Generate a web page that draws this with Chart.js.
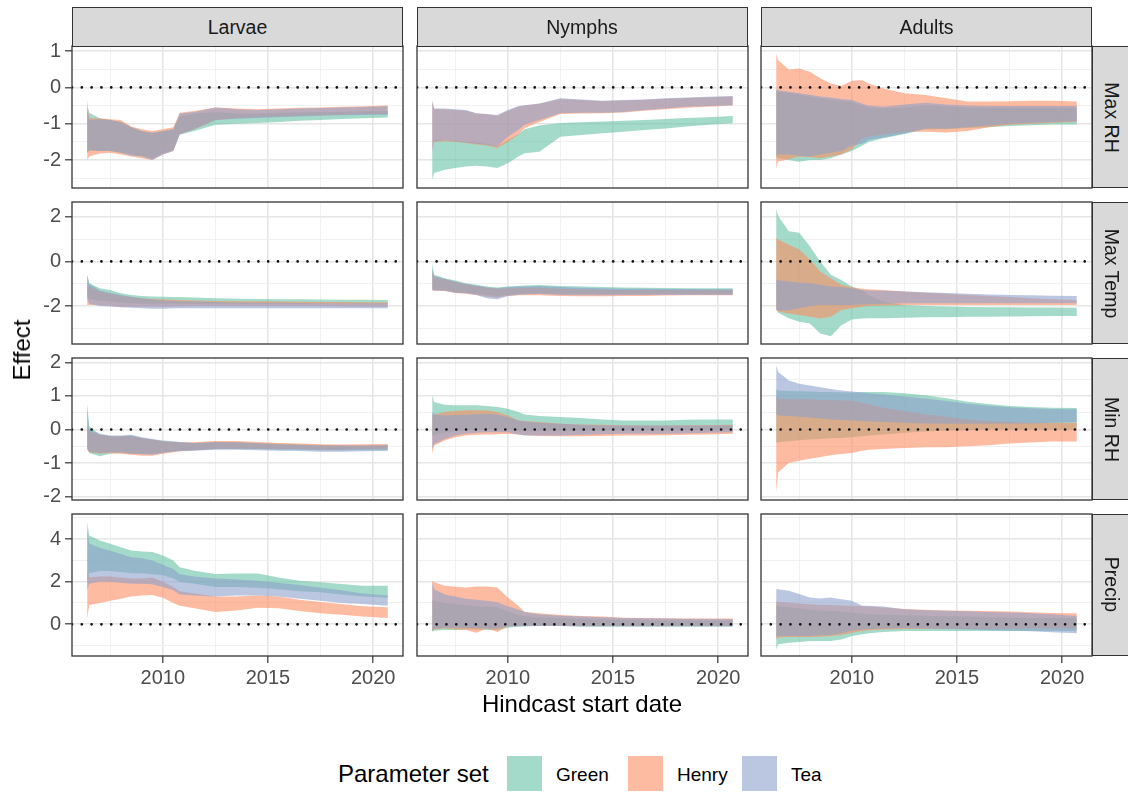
<!DOCTYPE html>
<html><head><meta charset="utf-8">
<script src="https://cdn.jsdelivr.net/npm/chart.js@4.4.1/dist/chart.umd.min.js"></script>
<style>
html,body{margin:0;padding:0;background:#fff;}
#wrap{position:relative;width:1128px;height:792px;overflow:hidden;background:#fff;font-family:"Liberation Sans",Arial,Helvetica,sans-serif;}
canvas{position:absolute;}
.strip{position:absolute;background:#D9D9D9;border:1px solid #333;box-sizing:border-box;display:flex;align-items:center;justify-content:center;color:#1A1A1A;font-size:19.5px;}
.vtext{transform:rotate(90deg);white-space:nowrap;}
.lbl{position:absolute;white-space:nowrap;color:#000;line-height:1;}
.key{position:absolute;width:35px;height:35px;}
</style></head>
<body><div id="wrap"></div>
<script>
// ---------------- DATA ----------------
const dates = [2006.4, 2006.5, 2007, 2007.5, 2008, 2008.5, 2009, 2009.5, 2010, 2010.5, 2010.8, 2011.5, 2012.5, 2013.5, 2014.5, 2015.5, 2016.5, 2017.5, 2018.5, 2019.5, 2020.7];
const stages = ['Larvae', 'Nymphs', 'Adults'];
const variables = ['Max RH', 'Max Temp', 'Min RH', 'Precip'];
const paramSets = ['Green', 'Henry', 'Tea'];
const xMajorTicks = [2010, 2015, 2020];
const xMinorTicks = [2007.5, 2012.5, 2017.5];
const yMajorTicksMaxRH = [-2, -1, 0, 1];
const yMinorTicksMaxRH = [-2.5, -1.5, -0.5, 0.5];
const yMajorTicksMaxTemp = [-2, 0, 2];
const yMinorTicksMaxTemp = [-3, -1, 1];
const yMajorTicksMinRH = [-2, -1, 0, 1, 2];
const yMinorTicksMinRH = [-1.5, -0.5, 0.5, 1.5];
const yMajorTicksPrecip = [0, 2, 4];
const yMinorTicksPrecip = [-1, 1, 3, 5];
const referenceEffect = 0;

// Larvae - Max RH
const larvaeMaxRH_Green_lo = [-1.8, -1.75, -1.75, -1.75, -1.8, -1.85, -1.88, -1.95, -1.8, -1.72, -1.3, -1.2, -1.03, -1.0, -0.98, -0.95, -0.92, -0.9, -0.87, -0.85, -0.83];
const larvaeMaxRH_Green_hi = [-0.5, -0.7, -0.85, -0.9, -0.95, -1.1, -1.2, -1.25, -1.2, -1.15, -0.8, -0.72, -0.68, -0.72, -0.72, -0.7, -0.69, -0.68, -0.67, -0.66, -0.65];
const larvaeMaxRH_Henry_lo = [-2.0, -1.9, -1.82, -1.8, -1.85, -1.9, -1.95, -2.0, -1.85, -1.75, -1.28, -1.15, -0.9, -0.85, -0.82, -0.8, -0.78, -0.77, -0.75, -0.74, -0.73];
const larvaeMaxRH_Henry_hi = [-0.35, -0.85, -0.85, -0.88, -0.9, -1.08, -1.15, -1.2, -1.15, -1.1, -0.7, -0.65, -0.55, -0.58, -0.6, -0.58, -0.56, -0.55, -0.53, -0.52, -0.5];
const larvaeMaxRH_Tea_lo = [-1.8, -1.72, -1.75, -1.75, -1.8, -1.88, -1.9, -2.0, -1.85, -1.75, -1.3, -1.15, -0.9, -0.86, -0.84, -0.82, -0.8, -0.78, -0.77, -0.76, -0.75];
const larvaeMaxRH_Tea_hi = [-0.6, -0.9, -0.88, -0.9, -0.95, -1.1, -1.2, -1.25, -1.2, -1.15, -0.72, -0.68, -0.55, -0.6, -0.62, -0.6, -0.58, -0.57, -0.55, -0.54, -0.52];
// Nymphs - Max RH
const nymphsMaxRH_Green_lo = [-2.55, -2.36, -2.27, -2.22, -2.18, -2.16, -2.18, -2.22, -2.09, -1.9, -1.81, -1.77, -1.36, -1.31, -1.26, -1.22, -1.17, -1.13, -1.08, -1.03, -0.99];
const nymphsMaxRH_Green_hi = [-1.75, -1.45, -1.45, -1.47, -1.5, -1.52, -1.55, -1.62, -1.45, -1.28, -1.15, -1.05, -0.98, -0.96, -0.94, -0.92, -0.9, -0.87, -0.84, -0.82, -0.79];
const nymphsMaxRH_Henry_lo = [-1.7, -1.5, -1.48, -1.5, -1.53, -1.57, -1.6, -1.67, -1.5, -1.3, -1.12, -0.95, -0.73, -0.72, -0.71, -0.69, -0.64, -0.6, -0.56, -0.53, -0.5];
const nymphsMaxRH_Henry_hi = [-0.4, -0.6, -0.6, -0.62, -0.64, -0.72, -0.74, -0.78, -0.64, -0.53, -0.5, -0.45, -0.32, -0.35, -0.38, -0.36, -0.34, -0.31, -0.29, -0.27, -0.25];
const nymphsMaxRH_Tea_lo = [-1.81, -1.49, -1.45, -1.49, -1.52, -1.55, -1.58, -1.63, -1.36, -1.17, -1.03, -0.9, -0.71, -0.7, -0.7, -0.68, -0.62, -0.58, -0.53, -0.51, -0.49];
const nymphsMaxRH_Tea_hi = [-0.35, -0.58, -0.58, -0.6, -0.62, -0.71, -0.73, -0.76, -0.62, -0.51, -0.49, -0.44, -0.3, -0.33, -0.37, -0.35, -0.33, -0.3, -0.28, -0.26, -0.24];
// Adults - Max RH
const adultsMaxRH_Green_lo = [-1.95, -1.95, -2.0, -2.05, -2.0, -2.0, -1.95, -1.85, -1.75, -1.6, -1.5, -1.4, -1.28, -1.15, -1.15, -1.12, -1.1, -1.06, -1.04, -1.02, -1.02];
const adultsMaxRH_Green_hi = [-0.1, -0.12, -0.15, -0.2, -0.25, -0.3, -0.33, -0.37, -0.4, -0.5, -0.55, -0.58, -0.55, -0.5, -0.52, -0.55, -0.56, -0.56, -0.56, -0.56, -0.56];
const adultsMaxRH_Henry_lo = [-2.22, -2.04, -1.98, -1.9, -1.92, -1.95, -1.9, -1.85, -1.7, -1.4, -1.35, -1.3, -1.22, -1.22, -1.24, -1.2, -1.1, -1.03, -1.0, -0.97, -0.95];
const adultsMaxRH_Henry_hi = [0.93, 0.75, 0.49, 0.52, 0.43, 0.25, 0.11, 0.04, 0.18, 0.2, 0.11, -0.03, -0.16, -0.21, -0.3, -0.39, -0.39, -0.38, -0.37, -0.37, -0.39];
const adultsMaxRH_Tea_lo = [-1.9, -1.85, -1.85, -1.88, -1.9, -1.85, -1.8, -1.75, -1.6, -1.55, -1.45, -1.38, -1.27, -1.13, -1.14, -1.1, -1.05, -1.0, -0.97, -0.95, -0.93];
const adultsMaxRH_Tea_hi = [-0.05, -0.08, -0.12, -0.16, -0.2, -0.25, -0.28, -0.32, -0.35, -0.45, -0.5, -0.53, -0.47, -0.42, -0.47, -0.5, -0.51, -0.51, -0.51, -0.51, -0.51];

// Larvae - Max Temp
const larvaeMaxTemp_Green_lo = [-1.6, -1.7, -1.75, -1.8, -1.85, -1.88, -1.9, -1.9, -1.9, -1.9, -1.9, -1.9, -1.9, -1.9, -1.9, -1.9, -1.9, -1.9, -1.9, -1.9, -1.9];
const larvaeMaxTemp_Green_hi = [-0.6, -0.98, -1.2, -1.28, -1.43, -1.5, -1.55, -1.57, -1.58, -1.6, -1.6, -1.62, -1.65, -1.67, -1.68, -1.7, -1.7, -1.71, -1.72, -1.72, -1.73];
const larvaeMaxTemp_Henry_lo = [-1.95, -1.95, -1.95, -2.0, -2.03, -2.03, -2.03, -2.03, -2.03, -2.02, -2.02, -2.0, -2.0, -2.0, -2.0, -2.0, -2.0, -2.0, -2.02, -2.02, -2.03];
const larvaeMaxTemp_Henry_hi = [-1.0, -1.13, -1.35, -1.45, -1.55, -1.6, -1.65, -1.68, -1.7, -1.72, -1.73, -1.75, -1.77, -1.78, -1.79, -1.8, -1.81, -1.82, -1.82, -1.83, -1.83];
const larvaeMaxTemp_Tea_lo = [-1.7, -1.9, -2.0, -2.02, -2.05, -2.08, -2.1, -2.12, -2.12, -2.1, -2.1, -2.1, -2.1, -2.1, -2.1, -2.1, -2.1, -2.1, -2.1, -2.1, -2.1];
const larvaeMaxTemp_Tea_hi = [-0.6, -1.0, -1.3, -1.4, -1.5, -1.58, -1.65, -1.7, -1.75, -1.77, -1.78, -1.8, -1.82, -1.84, -1.85, -1.85, -1.86, -1.87, -1.87, -1.88, -1.88];
// Nymphs - Max Temp
const nymphsMaxTemp_Green_lo = [-1.25, -1.28, -1.3, -1.38, -1.42, -1.45, -1.5, -1.55, -1.5, -1.45, -1.44, -1.43, -1.45, -1.45, -1.46, -1.46, -1.45, -1.45, -1.45, -1.45, -1.45];
const nymphsMaxTemp_Green_hi = [-0.08, -0.6, -0.75, -0.86, -0.98, -1.05, -1.13, -1.17, -1.13, -1.1, -1.08, -1.06, -1.1, -1.13, -1.15, -1.17, -1.18, -1.19, -1.2, -1.2, -1.2];
const nymphsMaxTemp_Henry_lo = [-1.3, -1.32, -1.33, -1.42, -1.45, -1.5, -1.58, -1.62, -1.55, -1.52, -1.52, -1.52, -1.55, -1.56, -1.56, -1.55, -1.55, -1.53, -1.52, -1.52, -1.52];
const nymphsMaxTemp_Henry_hi = [-0.5, -0.7, -0.8, -0.92, -1.02, -1.1, -1.18, -1.22, -1.2, -1.18, -1.18, -1.18, -1.22, -1.25, -1.27, -1.28, -1.28, -1.28, -1.28, -1.28, -1.28];
const nymphsMaxTemp_Tea_lo = [-1.28, -1.3, -1.32, -1.4, -1.43, -1.5, -1.65, -1.7, -1.55, -1.5, -1.48, -1.46, -1.5, -1.52, -1.52, -1.5, -1.5, -1.5, -1.5, -1.5, -1.5];
const nymphsMaxTemp_Tea_hi = [-0.3, -0.65, -0.78, -0.9, -1.0, -1.08, -1.16, -1.2, -1.15, -1.13, -1.12, -1.1, -1.15, -1.18, -1.2, -1.22, -1.23, -1.24, -1.24, -1.25, -1.25];
// Adults - Max Temp
const adultsMaxTemp_Green_lo = [-2.1, -2.3, -2.55, -2.7, -2.78, -3.23, -3.35, -2.86, -2.6, -2.56, -2.55, -2.55, -2.52, -2.5, -2.5, -2.48, -2.48, -2.47, -2.46, -2.45, -2.45];
const adultsMaxTemp_Green_hi = [2.36, 2.03, 1.35, 1.28, 0.68, 0.0, -0.6, -0.83, -1.13, -1.3, -1.5, -1.8, -1.95, -2.0, -2.02, -2.04, -2.05, -2.05, -2.06, -2.06, -2.08];
const adultsMaxTemp_Henry_lo = [-2.18, -2.26, -2.33, -2.4, -2.48, -2.56, -2.48, -2.18, -2.1, -2.03, -2.0, -1.98, -1.95, -1.95, -1.95, -1.95, -1.95, -1.95, -1.95, -1.95, -1.95];
const adultsMaxTemp_Henry_hi = [1.05, 0.98, 0.75, 0.53, 0.08, -0.45, -0.75, -1.05, -1.16, -1.22, -1.25, -1.28, -1.35, -1.4, -1.45, -1.5, -1.55, -1.6, -1.65, -1.7, -1.73];
const adultsMaxTemp_Tea_lo = [-2.2, -2.2, -2.2, -2.1, -2.0, -1.95, -1.95, -1.95, -1.95, -1.93, -1.92, -1.9, -1.88, -1.88, -1.88, -1.88, -1.88, -1.88, -1.88, -1.88, -1.88];
const adultsMaxTemp_Tea_hi = [-0.8, -0.85, -0.9, -0.95, -0.98, -1.05, -1.13, -1.16, -1.2, -1.28, -1.3, -1.32, -1.35, -1.38, -1.42, -1.45, -1.48, -1.5, -1.52, -1.54, -1.55];

// Larvae - Min RH
const larvaeMinRH_Green_lo = [-0.55, -0.7, -0.8, -0.72, -0.7, -0.72, -0.72, -0.72, -0.68, -0.65, -0.63, -0.62, -0.58, -0.58, -0.58, -0.6, -0.6, -0.62, -0.62, -0.62, -0.6];
const larvaeMinRH_Green_hi = [0.77, 0.1, -0.15, -0.2, -0.2, -0.18, -0.25, -0.3, -0.35, -0.37, -0.38, -0.4, -0.38, -0.38, -0.4, -0.42, -0.44, -0.46, -0.48, -0.48, -0.47];
const larvaeMinRH_Henry_lo = [-0.6, -0.68, -0.72, -0.7, -0.72, -0.75, -0.78, -0.78, -0.72, -0.68, -0.65, -0.62, -0.57, -0.57, -0.57, -0.58, -0.58, -0.6, -0.6, -0.58, -0.57];
const larvaeMinRH_Henry_hi = [0.1, -0.05, -0.15, -0.2, -0.2, -0.2, -0.25, -0.3, -0.35, -0.37, -0.38, -0.38, -0.34, -0.34, -0.37, -0.4, -0.42, -0.44, -0.45, -0.44, -0.43];
const larvaeMinRH_Tea_lo = [-0.58, -0.66, -0.7, -0.68, -0.68, -0.72, -0.74, -0.75, -0.7, -0.66, -0.65, -0.63, -0.6, -0.6, -0.62, -0.63, -0.64, -0.66, -0.66, -0.65, -0.64];
const larvaeMinRH_Tea_hi = [0.7, 0.0, -0.13, -0.18, -0.18, -0.16, -0.23, -0.28, -0.33, -0.35, -0.37, -0.4, -0.37, -0.38, -0.41, -0.44, -0.46, -0.48, -0.48, -0.48, -0.47];
// Nymphs - Min RH
const nymphsMinRH_Green_lo = [-0.2, -0.15, -0.1, -0.05, -0.02, 0.0, 0.0, 0.0, 0.0, -0.05, -0.05, -0.05, -0.05, -0.05, -0.03, -0.03, -0.03, -0.02, -0.02, -0.01, 0.0];
const nymphsMinRH_Green_hi = [1.01, 0.82, 0.74, 0.72, 0.72, 0.72, 0.7, 0.67, 0.62, 0.52, 0.45, 0.4, 0.37, 0.34, 0.3, 0.27, 0.27, 0.27, 0.29, 0.3, 0.3];
const nymphsMinRH_Henry_lo = [-0.73, -0.48, -0.33, -0.23, -0.18, -0.16, -0.15, -0.14, -0.13, -0.15, -0.17, -0.19, -0.2, -0.2, -0.19, -0.18, -0.18, -0.17, -0.16, -0.15, -0.13];
const nymphsMinRH_Henry_hi = [0.42, 0.45, 0.52, 0.55, 0.57, 0.57, 0.57, 0.52, 0.42, 0.27, 0.25, 0.22, 0.17, 0.15, 0.14, 0.13, 0.12, 0.12, 0.13, 0.13, 0.14];
const nymphsMinRH_Tea_lo = [-0.58, -0.43, -0.28, -0.18, -0.13, -0.1, -0.08, -0.08, -0.08, -0.15, -0.18, -0.18, -0.18, -0.16, -0.14, -0.13, -0.13, -0.13, -0.12, -0.1, -0.08];
const nymphsMinRH_Tea_hi = [0.52, 0.45, 0.42, 0.43, 0.44, 0.46, 0.47, 0.45, 0.37, 0.27, 0.24, 0.2, 0.17, 0.14, 0.12, 0.12, 0.12, 0.12, 0.12, 0.12, 0.12];
// Adults - Min RH
const adultsMinRH_Green_lo = [-0.4, -0.38, -0.35, -0.32, -0.3, -0.28, -0.26, -0.25, -0.23, -0.2, -0.18, -0.15, -0.1, -0.06, -0.03, -0.02, 0.0, 0.0, 0.0, 0.0, 0.0];
const adultsMinRH_Green_hi = [1.2, 1.16, 1.15, 1.14, 1.13, 1.12, 1.12, 1.11, 1.1, 1.12, 1.12, 1.12, 1.08, 1.02, 0.93, 0.83, 0.76, 0.7, 0.67, 0.65, 0.64];
const adultsMinRH_Henry_lo = [-1.87, -1.27, -1.0, -0.93, -0.87, -0.82, -0.77, -0.73, -0.7, -0.63, -0.6, -0.58, -0.55, -0.53, -0.53, -0.5, -0.47, -0.42, -0.39, -0.36, -0.36];
const adultsMinRH_Henry_hi = [1.0, 0.92, 0.9, 0.9, 0.9, 0.88, 0.87, 0.87, 0.86, 0.8, 0.75, 0.65, 0.55, 0.45, 0.38, 0.3, 0.25, 0.22, 0.2, 0.2, 0.2];
const adultsMinRH_Tea_lo = [0.45, 0.42, 0.4, 0.38, 0.36, 0.33, 0.3, 0.28, 0.27, 0.25, 0.24, 0.22, 0.2, 0.18, 0.17, 0.17, 0.17, 0.18, 0.18, 0.2, 0.22];
const adultsMinRH_Tea_hi = [1.91, 1.71, 1.46, 1.36, 1.31, 1.26, 1.21, 1.16, 1.13, 1.1, 1.08, 1.04, 0.98, 0.92, 0.85, 0.77, 0.71, 0.66, 0.63, 0.61, 0.6];

// Larvae - Precip
const larvaePrecip_Green_lo = [2.0, 2.4, 2.5, 2.5, 2.45, 2.4, 2.4, 2.35, 2.3, 2.15, 2.0, 1.9, 1.75, 1.75, 1.72, 1.65, 1.55, 1.5, 1.4, 1.3, 1.25];
const larvaePrecip_Green_hi = [4.8, 4.17, 3.94, 3.78, 3.62, 3.46, 3.42, 3.39, 3.23, 2.99, 2.68, 2.52, 2.36, 2.38, 2.38, 2.2, 2.05, 1.97, 1.89, 1.81, 1.81];
const larvaePrecip_Henry_lo = [0.25, 0.9, 1.0, 1.1, 1.2, 1.3, 1.35, 1.37, 1.25, 1.0, 0.87, 0.75, 0.58, 0.65, 0.78, 0.75, 0.62, 0.52, 0.45, 0.37, 0.3];
const larvaePrecip_Henry_hi = [2.5, 2.2, 2.25, 2.25, 2.2, 2.15, 2.15, 2.2, 2.0, 1.75, 1.55, 1.45, 1.3, 1.3, 1.35, 1.3, 1.15, 1.05, 0.95, 0.85, 0.8];
const larvaePrecip_Tea_lo = [1.6, 1.9, 2.0, 2.0, 1.95, 1.9, 1.9, 1.88, 1.75, 1.6, 1.4, 1.35, 1.3, 1.35, 1.35, 1.3, 1.2, 1.1, 1.0, 0.95, 0.87];
const larvaePrecip_Tea_hi = [4.5, 3.8, 3.6, 3.45, 3.3, 3.15, 3.1, 3.0, 2.8, 2.6, 2.35, 2.25, 2.15, 2.1, 2.05, 1.95, 1.85, 1.72, 1.6, 1.45, 1.35];
// Nymphs - Precip
const nymphsPrecip_Green_lo = [-0.35, -0.3, -0.27, -0.27, -0.25, -0.26, -0.27, -0.27, -0.16, -0.12, -0.1, -0.08, -0.08, -0.1, -0.11, -0.11, -0.11, -0.11, -0.11, -0.11, -0.11];
const nymphsPrecip_Green_hi = [1.2, 1.1, 1.0, 0.95, 0.9, 0.85, 0.82, 0.8, 0.6, 0.45, 0.38, 0.32, 0.28, 0.25, 0.22, 0.2, 0.19, 0.18, 0.18, 0.17, 0.17];
const nymphsPrecip_Henry_lo = [-0.31, -0.25, -0.2, -0.25, -0.27, -0.4, -0.2, -0.36, -0.11, -0.08, -0.07, -0.07, -0.08, -0.08, -0.08, -0.08, -0.08, -0.08, -0.08, -0.08, -0.08];
const nymphsPrecip_Henry_hi = [2.05, 1.97, 1.81, 1.76, 1.73, 1.78, 1.78, 1.73, 1.26, 0.87, 0.58, 0.52, 0.43, 0.39, 0.36, 0.31, 0.3, 0.28, 0.27, 0.27, 0.27];
const nymphsPrecip_Tea_lo = [-0.31, -0.2, -0.16, -0.16, -0.17, -0.18, -0.2, -0.2, -0.11, -0.09, -0.08, -0.08, -0.08, -0.1, -0.11, -0.11, -0.11, -0.11, -0.11, -0.11, -0.11];
const nymphsPrecip_Tea_hi = [1.97, 1.65, 1.4, 1.3, 1.2, 1.15, 1.1, 1.03, 0.85, 0.7, 0.58, 0.47, 0.4, 0.36, 0.33, 0.3, 0.28, 0.27, 0.26, 0.25, 0.24];
// Adults - Precip
const adultsPrecip_Green_lo = [-1.18, -0.94, -0.87, -0.83, -0.79, -0.79, -0.79, -0.71, -0.55, -0.47, -0.42, -0.36, -0.31, -0.31, -0.31, -0.31, -0.31, -0.31, -0.31, -0.31, -0.31];
const adultsPrecip_Green_hi = [0.9, 0.85, 0.8, 0.75, 0.7, 0.65, 0.62, 0.6, 0.55, 0.5, 0.47, 0.45, 0.42, 0.4, 0.38, 0.36, 0.34, 0.32, 0.3, 0.3, 0.3];
const adultsPrecip_Henry_lo = [-0.7, -0.62, -0.6, -0.6, -0.6, -0.58, -0.55, -0.5, -0.4, -0.32, -0.28, -0.25, -0.22, -0.22, -0.22, -0.22, -0.22, -0.21, -0.2, -0.2, -0.2];
const adultsPrecip_Henry_hi = [1.1, 1.05, 1.02, 0.98, 0.94, 0.92, 0.9, 0.88, 0.87, 0.85, 0.83, 0.79, 0.72, 0.68, 0.65, 0.63, 0.62, 0.6, 0.56, 0.53, 0.52];
const adultsPrecip_Tea_lo = [-0.6, -0.55, -0.55, -0.55, -0.55, -0.52, -0.5, -0.42, -0.3, -0.25, -0.22, -0.2, -0.18, -0.2, -0.22, -0.25, -0.28, -0.3, -0.33, -0.38, -0.42];
const adultsPrecip_Tea_hi = [1.65, 1.65, 1.57, 1.42, 1.26, 1.21, 1.26, 1.18, 1.1, 0.87, 0.87, 0.83, 0.71, 0.66, 0.63, 0.61, 0.58, 0.55, 0.52, 0.47, 0.39];

// ---------------- TABLES BUILT FROM THE DATA ----------------
const ribbons = {
  'Larvae|Max RH':  {Green:[larvaeMaxRH_Green_lo, larvaeMaxRH_Green_hi], Henry:[larvaeMaxRH_Henry_lo, larvaeMaxRH_Henry_hi], Tea:[larvaeMaxRH_Tea_lo, larvaeMaxRH_Tea_hi]},
  'Nymphs|Max RH':  {Green:[nymphsMaxRH_Green_lo, nymphsMaxRH_Green_hi], Henry:[nymphsMaxRH_Henry_lo, nymphsMaxRH_Henry_hi], Tea:[nymphsMaxRH_Tea_lo, nymphsMaxRH_Tea_hi]},
  'Adults|Max RH':  {Green:[adultsMaxRH_Green_lo, adultsMaxRH_Green_hi], Henry:[adultsMaxRH_Henry_lo, adultsMaxRH_Henry_hi], Tea:[adultsMaxRH_Tea_lo, adultsMaxRH_Tea_hi]},
  'Larvae|Max Temp':{Green:[larvaeMaxTemp_Green_lo, larvaeMaxTemp_Green_hi], Henry:[larvaeMaxTemp_Henry_lo, larvaeMaxTemp_Henry_hi], Tea:[larvaeMaxTemp_Tea_lo, larvaeMaxTemp_Tea_hi]},
  'Nymphs|Max Temp':{Green:[nymphsMaxTemp_Green_lo, nymphsMaxTemp_Green_hi], Henry:[nymphsMaxTemp_Henry_lo, nymphsMaxTemp_Henry_hi], Tea:[nymphsMaxTemp_Tea_lo, nymphsMaxTemp_Tea_hi]},
  'Adults|Max Temp':{Green:[adultsMaxTemp_Green_lo, adultsMaxTemp_Green_hi], Henry:[adultsMaxTemp_Henry_lo, adultsMaxTemp_Henry_hi], Tea:[adultsMaxTemp_Tea_lo, adultsMaxTemp_Tea_hi]},
  'Larvae|Min RH':  {Green:[larvaeMinRH_Green_lo, larvaeMinRH_Green_hi], Henry:[larvaeMinRH_Henry_lo, larvaeMinRH_Henry_hi], Tea:[larvaeMinRH_Tea_lo, larvaeMinRH_Tea_hi]},
  'Nymphs|Min RH':  {Green:[nymphsMinRH_Green_lo, nymphsMinRH_Green_hi], Henry:[nymphsMinRH_Henry_lo, nymphsMinRH_Henry_hi], Tea:[nymphsMinRH_Tea_lo, nymphsMinRH_Tea_hi]},
  'Adults|Min RH':  {Green:[adultsMinRH_Green_lo, adultsMinRH_Green_hi], Henry:[adultsMinRH_Henry_lo, adultsMinRH_Henry_hi], Tea:[adultsMinRH_Tea_lo, adultsMinRH_Tea_hi]},
  'Larvae|Precip':  {Green:[larvaePrecip_Green_lo, larvaePrecip_Green_hi], Henry:[larvaePrecip_Henry_lo, larvaePrecip_Henry_hi], Tea:[larvaePrecip_Tea_lo, larvaePrecip_Tea_hi]},
  'Nymphs|Precip':  {Green:[nymphsPrecip_Green_lo, nymphsPrecip_Green_hi], Henry:[nymphsPrecip_Henry_lo, nymphsPrecip_Henry_hi], Tea:[nymphsPrecip_Tea_lo, nymphsPrecip_Tea_hi]},
  'Adults|Precip':  {Green:[adultsPrecip_Green_lo, adultsPrecip_Green_hi], Henry:[adultsPrecip_Henry_lo, adultsPrecip_Henry_hi], Tea:[adultsPrecip_Tea_lo, adultsPrecip_Tea_hi]},
};
const rowTicks = {
  'Max RH':  {major: yMajorTicksMaxRH, minor: yMinorTicksMaxRH},
  'Max Temp':{major: yMajorTicksMaxTemp, minor: yMinorTicksMaxTemp},
  'Min RH':  {major: yMajorTicksMinRH, minor: yMinorTicksMinRH},
  'Precip':  {major: yMajorTicksPrecip, minor: yMinorTicksPrecip},
};

// ---------------- STYLE / LAYOUT ----------------
const FONT = '"Liberation Sans", Arial, Helvetica, sans-serif';
const fillColors = {Green:'rgba(102,194,165,0.6)', Henry:'rgba(252,141,98,0.6)', Tea:'rgba(141,160,203,0.6)'};
const drawOrder = {Green: 3, Henry: 2, Tea: 1};
const X_RANGE = [2005.68, 2021.42];
const Y_RANGE = {'Max RH':[-2.77, 1.14], 'Max Temp':[-3.7, 2.66], 'Min RH':[-2.1, 2.13], 'Precip':[-1.49, 5.18]};
const colLeft = [72, 416.5, 761];
const rowTop = [46, 202, 358, 513.5];
const PW = 331, PH = 142;

const wrap = document.getElementById('wrap');

const panelBorder = {
  id: 'panelBorder',
  afterDraw(chart) {
    const {ctx, chartArea: a} = chart;
    ctx.save();
    ctx.strokeStyle = '#333333';
    ctx.lineWidth = 1.3;
    ctx.strokeRect(a.left, a.top, a.right - a.left, a.bottom - a.top);
    ctx.restore();
  }
};

function makePanel(r, c) {
  const stage = stages[c], variable = variables[r];
  const showY = c === 0, showX = r === 3;
  const padL = showY ? colLeft[0] : 4, padR = 4, padT = 14, padB = showX ? 46 : 14;
  const cv = document.createElement('canvas');
  const W = PW + padL + padR, H = PH + padT + padB;
  cv.width = W; cv.height = H;
  cv.style.width = W + 'px'; cv.style.height = H + 'px';
  cv.style.left = (colLeft[c] - padL) + 'px';
  cv.style.top = (rowTop[r] - padT) + 'px';
  wrap.appendChild(cv);

  const datasets = [];
  paramSets.forEach(p => {
    const [lo, hi] = ribbons[stage + '|' + variable][p];
    datasets.push({label: p + ' lower', data: dates.map((x, i) => ({x, y: lo[i]})),
      borderColor: 'rgba(0,0,0,0)', borderWidth: 0, pointRadius: 0, fill: false, order: drawOrder[p]});
    datasets.push({label: p, data: dates.map((x, i) => ({x, y: hi[i]})),
      borderColor: 'rgba(0,0,0,0)', borderWidth: 0, pointRadius: 0, fill: '-1',
      backgroundColor: fillColors[p], order: drawOrder[p]});
  });
  datasets.push({label: 'zero', data: [{x: X_RANGE[0], y: referenceEffect}, {x: X_RANGE[1], y: referenceEffect}],
    borderColor: '#111', borderWidth: 2.7, borderDash: [0.01, 9.8], borderCapStyle: 'round',
    pointRadius: 0, fill: false, order: 0});

  const yt = rowTicks[variable];
  const yAll = yt.major.concat(yt.minor).sort((a, b) => a - b);
  const xAll = xMajorTicks.concat(xMinorTicks).sort((a, b) => a - b);

  new Chart(cv, {
    type: 'line',
    data: {datasets},
    plugins: [panelBorder],
    options: {
      responsive: false, animation: false, devicePixelRatio: 1,
      layout: {padding: {left: showY ? 0 : padL, right: padR, top: padT, bottom: showX ? 0 : padB}},
      plugins: {legend: {display: false}, tooltip: {enabled: false}},
      elements: {line: {tension: 0}},
      scales: {
        x: {
          type: 'linear', min: X_RANGE[0], max: X_RANGE[1],
          afterBuildTicks: s => { s.ticks = xAll.map(v => ({value: v})); },
          afterFit: s => { s.height = showX ? padB : 0; s.paddingLeft = 0; s.paddingRight = 0; s.paddingTop = 0; s.paddingBottom = 0; },
          border: {display: false},
          grid: {
            drawTicks: showX, tickLength: 7,
            color: ctx => xMajorTicks.includes(ctx.tick && ctx.tick.value) ? '#E6E6E6' : '#EFEFEF',
            lineWidth: ctx => xMajorTicks.includes(ctx.tick && ctx.tick.value) ? 1.6 : 0.9,
            tickColor: ctx => xMajorTicks.includes(ctx.tick && ctx.tick.value) ? '#333333' : 'rgba(0,0,0,0)',
            tickWidth: 1.2,
          },
          ticks: {
            display: showX, autoSkip: false, maxRotation: 0, padding: 3,
            color: '#4D4D4D', font: {family: FONT, size: 20},
            callback: v => xMajorTicks.includes(v) ? String(v) : ''
          }
        },
        y: {
          type: 'linear', min: Y_RANGE[variable][0], max: Y_RANGE[variable][1],
          afterBuildTicks: s => { s.ticks = yAll.map(v => ({value: v})); },
          afterFit: s => { s.width = showY ? padL : 0; s.paddingLeft = 0; s.paddingRight = 0; s.paddingTop = 0; s.paddingBottom = 0; },
          border: {display: false},
          grid: {
            drawTicks: showY, tickLength: 7,
            color: ctx => yt.major.includes(ctx.tick && ctx.tick.value) ? '#E6E6E6' : '#EFEFEF',
            lineWidth: ctx => yt.major.includes(ctx.tick && ctx.tick.value) ? 1.6 : 0.9,
            tickColor: ctx => yt.major.includes(ctx.tick && ctx.tick.value) ? '#333333' : 'rgba(0,0,0,0)',
            tickWidth: 1.2,
          },
          ticks: {
            display: showY, autoSkip: false, padding: 4,
            color: '#4D4D4D', font: {family: FONT, size: 20},
            callback: v => yt.major.includes(v) ? String(v) : ''
          }
        }
      }
    }
  });
}

for (let r = 0; r < variables.length; r++) for (let c = 0; c < stages.length; c++) makePanel(r, c);

// strips (column facets)
stages.forEach((s, c) => {
  const d = document.createElement('div');
  d.className = 'strip';
  d.style.left = colLeft[c] + 'px'; d.style.top = '7px';
  d.style.width = PW + 'px'; d.style.height = '40px';
  d.textContent = s;
  wrap.appendChild(d);
});
// strips (row facets)
variables.forEach((v, r) => {
  const d = document.createElement('div');
  d.className = 'strip';
  d.style.left = (colLeft[2] + PW - 0.5) + 'px'; d.style.top = rowTop[r] + 'px';
  d.style.width = '42px'; d.style.height = PH + 'px';
  d.style.justifyContent = 'flex-start'; d.style.paddingLeft = '7px';
  const t = document.createElement('div');
  t.className = 'vtext'; t.style.width = '22px'; t.style.display = 'flex'; t.style.justifyContent = 'center';
  t.textContent = v;
  d.appendChild(t);
  wrap.appendChild(d);
});

function label(text, x, y, size, opts = {}) {
  const d = document.createElement('div');
  d.className = 'lbl';
  d.textContent = text;
  d.style.fontSize = size + 'px';
  d.style.left = x + 'px'; d.style.top = y + 'px';
  d.style.transform = opts.transform || 'translate(-50%,-50%)';
  if (opts.color) d.style.color = opts.color;
  wrap.appendChild(d);
  return d;
}
label('Effect', 22, 350, 24, {transform: 'translate(-50%,-50%) rotate(-90deg)'});
label('Hindcast start date', 582, 704, 24);

// legend
label('Parameter set', 338, 774, 24, {transform: 'translate(0,-50%)'});
const keyLeft = {Green: 507, Henry: 628, Tea: 742};
paramSets.forEach(p => {
  const k = document.createElement('div');
  k.className = 'key';
  k.style.left = keyLeft[p] + 'px'; k.style.top = '756px';
  k.style.background = fillColors[p];
  wrap.appendChild(k);
  label(p, keyLeft[p] + 49, 774, 19, {transform: 'translate(0,-50%)', color: '#000'});
});
</script></body></html>
